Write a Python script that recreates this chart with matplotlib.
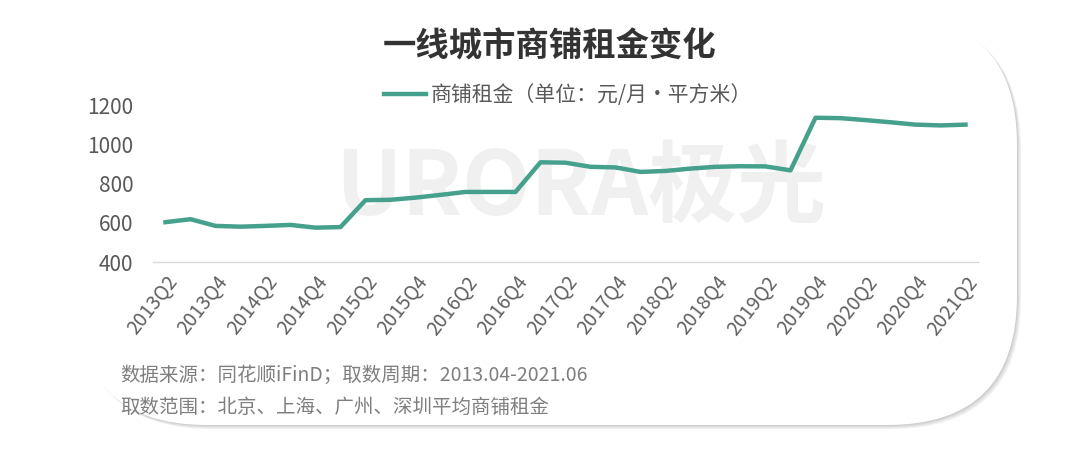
import numpy as np
import matplotlib.pyplot as plt
from matplotlib.patches import FancyBboxPatch

plt.rcParams['font.family'] = ['Noto Sans CJK SC', 'DejaVu Sans']

# quarterly rent, 2013Q2 - 2021Q2 (yuan / month / m2)
quarters = [f"{y}Q{q}" for y in range(2013, 2022) for q in (1, 2, 3, 4)][1:-2]
rent = [603, 618, 584, 580, 584, 589, 575, 578, 715, 717, 728, 742, 757, 757,
        757, 908, 906, 885, 882, 859, 864, 876, 885, 888, 887, 867, 1135,
        1133, 1123, 1112, 1100, 1096, 1100]
title = "一线城市商铺租金变化"
series_name = "商铺租金（单位：元/月·平方米）"
note1 = "数据来源：同花顺iFinD；取数周期：2013.04-2021.06"
note2 = "取数范围：北京、上海、广州、深圳平均商铺租金"

W, H = 1080, 465
fig = plt.figure(figsize=(W / 100, H / 100), dpi=100)
fig.patch.set_facecolor("white")

# card with soft shadow
x0, y0, x1, y1 = 77, 15, 1017, 425
for i, a in enumerate([0.10, 0.10, 0.12, 0.15]):
    off = 4 - i
    sh = FancyBboxPatch(((x0 + off) / W, 1 - (y1 + off) / H),
                        (x1 - x0) / W, (y1 - y0) / H,
                        boxstyle="round,pad=0,rounding_size=0.12",
                        mutation_aspect=W / H,
                        transform=fig.transFigure, facecolor="#888888",
                        edgecolor="none", alpha=a, zorder=0)
    fig.patches.append(sh)
card = FancyBboxPatch((x0 / W, 1 - y1 / H), (x1 - x0) / W, (y1 - y0) / H,
                      boxstyle="round,pad=0,rounding_size=0.12",
                      mutation_aspect=W / H,
                      transform=fig.transFigure, facecolor="white",
                      edgecolor="none", zorder=1)
fig.patches.append(card)

# watermark
fig.text(335 / W, 1 - 190 / H, "URORA极光", fontsize=64, fontweight="bold",
         color="#f0f0f0", va="center", ha="left", zorder=2)

ax = fig.add_axes([153 / W, 1 - 262 / H, 825 / W, 157 / H])
ax.set_facecolor("none")
ax.set_zorder(3)

x = np.arange(len(rent))
ax.plot(x, rent, color="#45a08c", lw=3.2, solid_joinstyle="round",
        label=series_name)

ax.set_xlim(-0.5, len(rent) - 0.5)
ax.set_ylim(400, 1200)
ax.set_yticks([400, 600, 800, 1000, 1200])
ax.set_xticks(x[::2])
ax.set_xticklabels(quarters[::2], rotation=52, ha="right",
                   rotation_mode="anchor", fontsize=14, color="#606060")
ax.tick_params(axis="y", labelsize=15, colors="#595959", length=0, pad=14)
ax.tick_params(axis="x", length=0, pad=7)
for s in ["top", "right", "left"]:
    ax.spines[s].set_visible(False)
ax.spines["bottom"].set_color("#d9d9d9")
ax.spines["bottom"].set_linewidth(1)

fig.text(550 / W, 1 - 47 / H, title, fontsize=24, fontweight="bold",
         color="#333333", ha="center", va="center", zorder=4)
leg = fig.legend(loc="center", bbox_to_anchor=(568 / W, 1 - 95 / H),
                 frameon=False, fontsize=15, handlelength=2.0,
                 handletextpad=0.2, labelcolor="#595959")

fig.text(120 / W, 1 - 375 / H, note1, fontsize=14, style="italic",
         color="#7f7f7f", va="center", zorder=4)
fig.text(120 / W, 1 - 407 / H, note2, fontsize=14, style="italic",
         color="#7f7f7f", va="center", zorder=4)

fig.savefig("out.png", dpi=100, facecolor="white")
